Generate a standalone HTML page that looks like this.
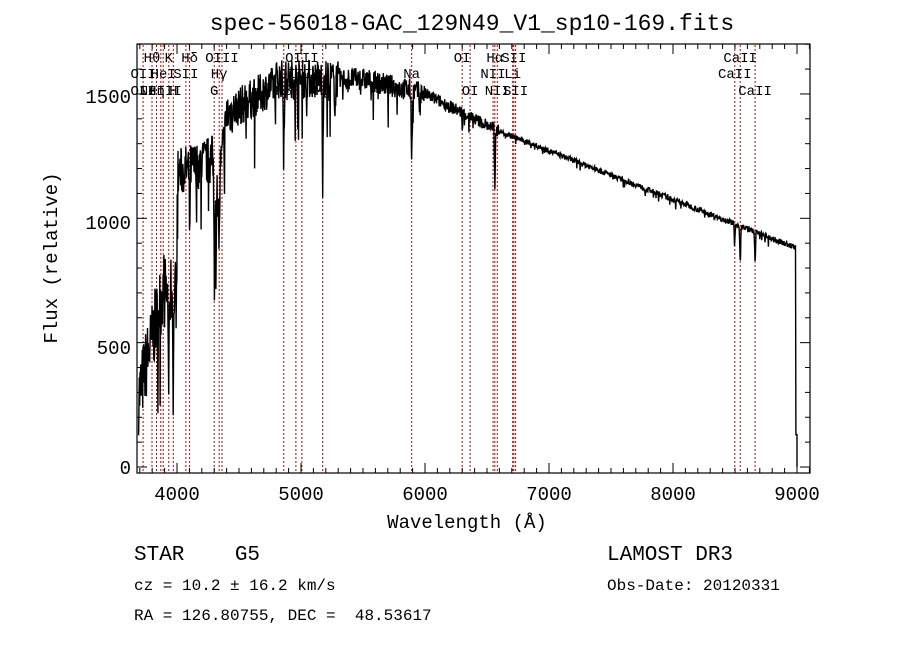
<!DOCTYPE html>
<html><head><meta charset="utf-8"><style>
body{margin:0;background:#fff;}
svg text{font-family:"Liberation Mono","DejaVu Sans Mono",monospace;fill:#000;white-space:pre;}
</style></head><body>
<svg id="s" width="900" height="649" viewBox="0 0 900 649" xmlns="http://www.w3.org/2000/svg" xml:space="preserve">
<rect width="900" height="649" fill="#fff"/>
<text x="472" y="30" font-size="23" text-anchor="middle">spec-56018-GAC_129N49_V1_sp10-169.fits</text>
<g id="red" stroke="#c00000" stroke-width="1" stroke-dasharray="2,2"></g>
<g id="lbl" font-size="14"></g>
<path id="spec" fill="none" stroke="#000" stroke-width="1.4"/>
<rect x="137" y="44" width="673" height="429" fill="none" stroke="#000" stroke-width="1.2"/>
<g id="ticks" stroke="#000" stroke-width="1"></g>
<g font-size="19" text-anchor="middle">
<text x="177" y="500">4000</text><text x="301" y="500">5000</text><text x="425" y="500">6000</text>
<text x="549" y="500">7000</text><text x="673" y="500">8000</text><text x="797" y="500">9000</text>
</g>
<g font-size="19" text-anchor="end">
<text x="131" y="474">0</text><text x="131" y="354">500</text><text x="131" y="229">1000</text><text x="131" y="103">1500</text>
</g>
<text x="467" y="528" font-size="19" text-anchor="middle">Wavelength (Å)</text>
<text transform="translate(57,258) rotate(-90)" font-size="19" text-anchor="middle">Flux (relative)</text>
<text x="134" y="560" font-size="21">STAR    G5</text>
<text x="134" y="590" font-size="16">cz = 10.2 ± 16.2 km/s</text>
<text x="134" y="620" font-size="16">RA = 126.80755, DEC =  48.53617</text>
<text x="607" y="560" font-size="21">LAMOST DR3</text>
<text x="607" y="590" font-size="16">Obs-Date: 20120331</text>
</svg>
<script>
var X=function(l){return 177+(l-4000)*0.124;};
var Y=function(f){return 467-f*0.2487;};
var NS="http://www.w3.org/2000/svg";
function el(p,t,a,txt){var e=document.createElementNS(NS,t);for(var k in a)e.setAttribute(k,a[k]);if(txt)e.textContent=txt;document.getElementById(p).appendChild(e);}
var lines=[3727,3798,3835,3869,3889,3934,3970,4072,4102,4300,4340,4363,4861,4959,5007,5175,5893,6300,6364,6548,6563,6583,6707,6716,6731,8498,8542,8662];
lines.forEach(function(l){var x=X(l).toFixed(1);el("red","line",{x1:x,x2:x,y1:45,y2:472});});
var L=[["Hθ",3798,62],["K",3934,62],["Hδ",4102,62],["OIII",4363,62],["OIII",5007,62],["OI",6300,62],["Hα",6563,62],["SII",6716,62],["CaII",8542,62],
["OII",3727,78],["HeI",3889,78],["SII",4072,78],["Hγ",4340,78],["OIII",4959,78],["Na",5893,78],["NII",6548,78],["Li",6707,78],["CaII",8498,78],
["OII",3727,95],["Hη",3835,95],["NeIII",3869,95],["H",3970,95],["G",4300,95],["Hβ",4861,95],["Mg",5175,95],["OI",6364,95],["NII",6583,95],["SII",6731,95],["CaII",8662,95]];
L.forEach(function(a){el("lbl","text",{x:X(a[1]).toFixed(1),y:a[2],"text-anchor":"middle","font-family":"Liberation Serif,serif"},a[0]);});
for(var l=3700;l<=9100;l+=100){var x=X(l);var big=l%1000==0;el("ticks","line",{x1:x,x2:x,y1:473,y2:big?463:468});el("ticks","line",{x1:x,x2:x,y1:44,y2:big?54:49});}
for(var f=0;f<=1700;f+=100){var y=Y(f);var big=f%500==0;el("ticks","line",{x1:137,x2:big?147:142,y1:y,y2:y});el("ticks","line",{x1:810,x2:big?800:805,y1:y,y2:y});}
var seed=7;function r(){seed=(seed*16807)%2147483647;return seed/2147483647;}
function cont(l){
 if(l<3900)return 300+(l-3700)*2.2;
 if(l<4000)return 700;
 if(l<4300)return 1180+(l-4000)*0.2;
 if(l<4400)return 1000+(l-4300)*4;
 if(l<4800)return 1420+(l-4400)*0.3;
 if(l<5500)return 1560;
 if(l<6000)return 1560-(l-5500)*0.12;
 if(l<6600)return 1500-(l-6000)*0.25;
 return 1350-(l-6600)*0.196;}
function amp(l){if(l<4000)return 300;if(l<4450)return 200;if(l<5300)return 160;if(l<6000)return 90;if(l<6600)return 50;return 22;}
var dips=[[3934,400],[3970,400],[4102,250],[4300,350],[4340,300],[4861,300],[5175,350],[5270,150],[5893,300],[6563,260],[8498,80],[8542,150],[8662,130]];
var d="";
for(var l=3690;l<=9000;l+=3){
 var f=cont(l)+(r()-0.5)*amp(l)+(r()<0.05?-(r()*amp(l)*1.5):0);
 dips.forEach(function(p){var dl=Math.abs(l-p[0]);if(dl<8)f-=p[1]*(1-dl/8);});
 if(l>8990)f=130;
 if(f<0)f=20;
 d+=(d?"L":"M")+X(l).toFixed(1)+","+Y(f).toFixed(1);
}
d+="L"+X(9000).toFixed(1)+","+Y(0);
document.getElementById("spec").setAttribute("d",d);
</script>
</body></html>
